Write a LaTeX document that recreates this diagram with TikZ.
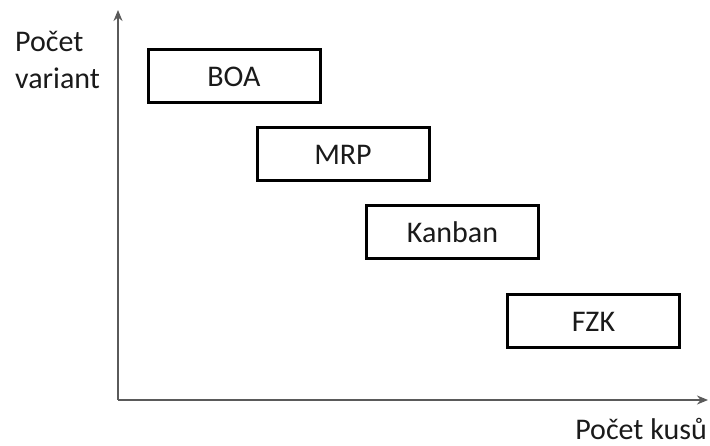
\documentclass[tikz,border=0pt]{standalone}
\usepackage{fontspec}
\setmainfont{Carlito}
\usetikzlibrary{arrows.meta}
\definecolor{axisgray}{HTML}{5A5A5A}
\definecolor{textdark}{HTML}{1A1A1A}
\begin{document}
\begin{tikzpicture}[x=1pt,y=-1pt,
  method/.style={draw=black, line width=3pt, minimum width=172pt, minimum height=53pt,
    inner sep=0pt, font=\fontsize{30}{36.6}\selectfont, text=textdark},
  axislabel/.style={font=\fontsize{30}{37}\selectfont, text=textdark, inner sep=0pt},
  axis/.style={draw=axisgray, line width=2pt, -{Stealth[length=11pt,width=9pt]}}]
\useasboundingbox (0,0) rectangle (710,446);
% axes
\coordinate (origin) at (118,400);
\coordinate (ytip) at (118,10);
\coordinate (xtip) at (708,400);
\draw[axis] (origin) -- (ytip);
\draw[axis] (origin) -- (xtip);
% axis labels
\node[axislabel, anchor=north west, align=left] (ylab) at (15,31) {Počet\\variant};
\node[axislabel, anchor=base east] (xlab) at (707,439) {Počet kusů};
% planning methods
\node[method] (boa) at (234,76.5) {BOA};
\node[method] (mrp) at (343,154.5) {MRP};
\node[method] (kanban) at (452.5,232) {Kanban};
\node[method] (fzk) at (593.5,321.5) {FZK};
\end{tikzpicture}
\end{document}
